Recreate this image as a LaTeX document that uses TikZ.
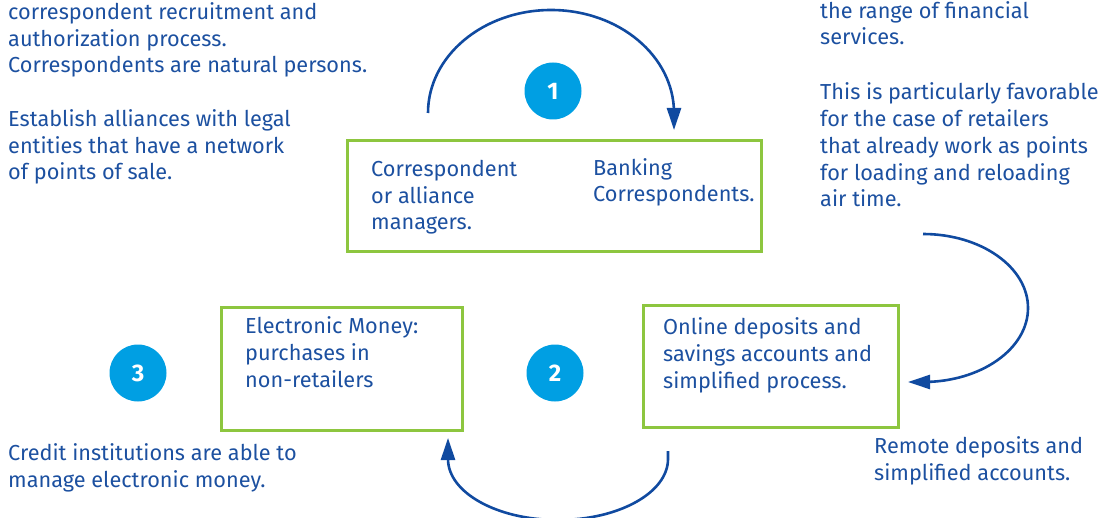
\documentclass[tikz,border=0pt]{standalone}
\usepackage{fontspec}
\setmainfont{Fira Sans}
\usetikzlibrary{arrows.meta}
\definecolor{txtblue}{RGB}{28,80,160}
\definecolor{arrblue}{RGB}{16,74,160}
\definecolor{circblue}{RGB}{0,159,227}
\definecolor{boxgreen}{RGB}{141,198,63}
\begin{document}
\begin{tikzpicture}[x=1pt,y=1pt,
  txt/.style={font=\fontsize{21.7}{26.8}\selectfont, text=txtblue, align=left, anchor=base west, inner sep=0pt},
  gbox/.style={draw=boxgreen, line width=3pt, rectangle, inner sep=0pt, anchor=north west},
  numc/.style={circle, fill=circblue, minimum size=57pt, inner sep=0pt, text=white, font=\fontsize{24}{24}\selectfont\bfseries},
  arr/.style={draw=arrblue, line width=2.6pt, -{Triangle[length=22pt,width=14pt]}}]
\useasboundingbox (0,0) rectangle (1099,517);
% boxes
\node[gbox, minimum width=414pt, minimum height=111pt] (b1) at (346,378) {};
\node[gbox, minimum width=241pt, minimum height=123pt] (bem) at (220,211) {};
\node[gbox, minimum width=255pt, minimum height=122pt] (bon) at (642,213) {};
% circles
\node[numc] (c1) at (553,426) {1};
\node[numc] (c2) at (555,144) {2};
\node[numc] (c3) at (138,144) {3};
% texts (anchored at the baseline of the last line)
\node[txt] (tl1) at (8,444) {correspondent recruitment and\\authorization process.\\Correspondents are natural persons.};
\node[txt] (tl2) at (8,337) {Establish alliances with legal\\entities that have a network\\of points of sale.};
\node[txt] (tr1) at (820,472) {the range of financial\\services.};
\node[txt] (tr2) at (820,310) {This is particularly favorable\\for the case of retailers\\that already work as points\\for loading and reloading\\air time.};
\node[txt] (b1l) at (371,287) {Correspondent\\or alliance\\managers.};
\node[txt] (b1r) at (593,315) {Banking\\Correspondents.};
\node[txt] (em) at (245,130) {Electronic Money:\\purchases in\\non-retailers};
\node[txt] (on) at (663,129) {Online deposits and\\savings accounts and\\simplified process.};
\node[txt] (rem) at (874,37) {Remote deposits and\\simplified accounts.};
\node[txt] (cr) at (8,30) {Credit institutions are able to\\manage electronic money.};
% arrows
\coordinate (a1s) at (428,404);
\coordinate (a2s) at (923,283);
\coordinate (a3s) at (668,66);
\draw[arr] (a1s) arc[start angle=180, end angle=0, x radius=123pt, y radius=103pt] -- ++(0,-17);
\draw[arr] (a2s) arc[start angle=90, end angle=-90, x radius=105pt, y radius=74pt] -- ++(-15,0);
\draw[arr] (a3s) -- ++(0,-8) arc[start angle=0, end angle=-180, x radius=110pt, y radius=61pt] -- ++(0,21);
\end{tikzpicture}
\end{document}
